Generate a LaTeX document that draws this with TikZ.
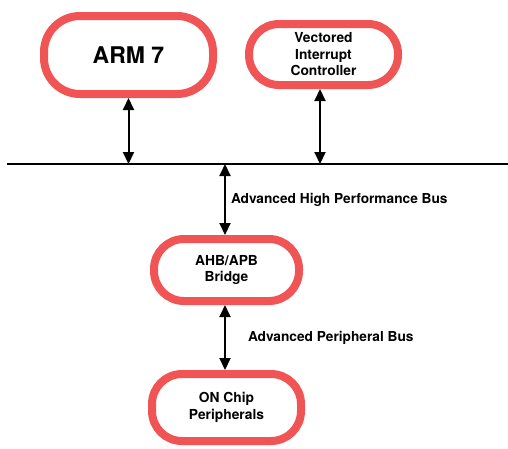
\documentclass[tikz,border=0pt]{standalone}
\usepackage{fontspec}
\setmainfont{TeX Gyre Heros}
\usetikzlibrary{arrows.meta}
\definecolor{boxred}{RGB}{240,84,84}
\tikzset{
  blk/.style={draw=boxred, line width=8pt, fill=white, rounded corners=30pt,
    align=center, font=\bfseries\fontsize{13.8}{16.5}\selectfont, inner sep=0pt},
  link/.style={line width=2pt, {Triangle[width=11pt,length=12pt]}-{Triangle[width=11pt,length=12pt]}},
  lbl/.style={anchor=west, font=\bfseries\fontsize{13.7}{16}\selectfont, inner sep=0pt}
}
\begin{document}
\begin{tikzpicture}[x=1pt,y=-1pt]
\useasboundingbox (0,0) rectangle (508,448);
\node[blk, minimum width=169pt, minimum height=78pt, rounded corners=36pt,
  font=\bfseries\fontsize{23}{26}\selectfont] (arm) at (128.5,55) {ARM 7};
\node[blk, minimum width=149pt, minimum height=61pt] (vic) at (323.5,54.5) {Vectored\\Interrupt\\Controller};
\node[blk, minimum width=145pt, minimum height=62pt] (bridge) at (226.5,270) {AHB/APB\\Bridge};
\node[blk, minimum width=149pt, minimum height=67pt] (per) at (226.5,407.5) {ON Chip\\Peripherals};
\coordinate (busL) at (7,164);
\coordinate (busR) at (508,164);
\draw[line width=2.2pt] (busL) -- (busR);
\draw[link] (arm.south) -- (arm.south |- busL);
\draw[link] ([xshift=-3.5pt]vic.south) -- ([xshift=-3.5pt]vic.south |- busL);
\draw[link] ([xshift=-1.5pt]bridge.north |- busL) -- node[lbl, xshift=5pt] (ahb) {Advanced High Performance Bus} ([xshift=-1.5pt]bridge.north);
\draw[link] ([xshift=-1.5pt]bridge.south) -- node[lbl, xshift=22pt] (apb) {Advanced Peripheral Bus} ([xshift=-1.5pt]per.north);
\end{tikzpicture}
\end{document}
